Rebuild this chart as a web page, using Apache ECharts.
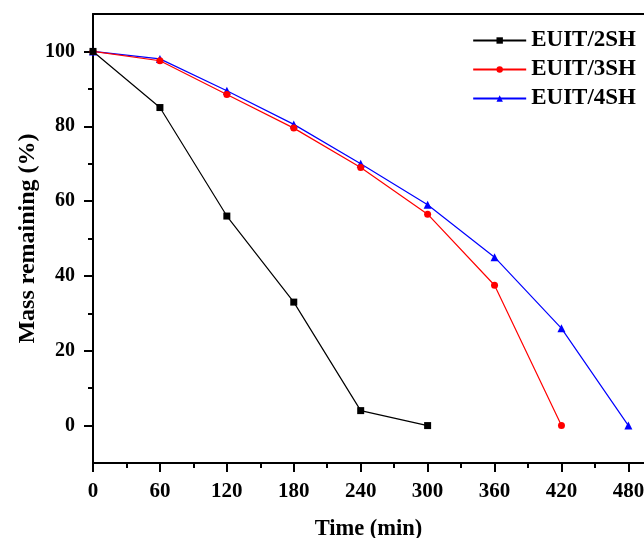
<!DOCTYPE html>
<html>
<head>
<meta charset="utf-8">
<script src="https://cdn.jsdelivr.net/npm/echarts@6/dist/echarts.min.js"></script>
<style>
  html, body { margin: 0; padding: 0; background: #fff; }
  #chart { width: 644px; height: 538px; }
</style>
</head>
<body>
<div id="chart"></div>
<script>
// data
const seriesNames = ['EUIT/2SH', 'EUIT/3SH', 'EUIT/4SH'];
const time2SH = [0, 60, 120, 180, 240, 300];
const mass2SH = [100, 85, 56, 33, 4, 0];
const time3SH = [0, 60, 120, 180, 240, 300, 360, 420];
const mass3SH = [100, 97.5, 88.5, 79.5, 69, 56.5, 37.5, 0];
const time4SH = [0, 60, 120, 180, 240, 300, 360, 420, 480];
const mass4SH = [100, 98, 89.5, 80.5, 70, 59, 45, 26, 0];
const xTicks = [0, 60, 120, 180, 240, 300, 360, 420, 480];
const xMinorTicks = [30, 90, 150, 210, 270, 330, 390, 450];
const yTicks = [0, 20, 40, 60, 80, 100];
const yMinorTicks = [10, 30, 50, 70, 90];

const font = '"Liberation Serif", "Times New Roman", serif';
const colors = ['#000000', '#ff0000', '#0000ff'];
const symbols = ['rect', 'circle', 'triangle'];
const symbolSizes = [7, 7, 8];

const pairs = (xs, ys) => xs.map((x, i) => [x, ys[i]]);
const allData = [pairs(time2SH, mass2SH), pairs(time3SH, mass3SH), pairs(time4SH, mass4SH)];

const chart = echarts.init(document.getElementById('chart'));

const txt = (size) => ({ color: '#000', fontFamily: font, fontWeight: 'bold', fontSize: size });
const axisLineStyle = { color: '#000', width: 2 };

chart.setOption({
    backgroundColor: '#ffffff',
    animation: false,
    grid: { left: 93, right: 0, top: 14, bottom: 75, containLabel: false, outerBoundsMode: 'none' },
    legend: {
        orient: 'vertical',
        right: 3,
        top: 24,
        itemWidth: 53,
        itemHeight: 8,
        itemGap: 6,
        textStyle: txt(23),
        data: seriesNames
    },
    xAxis: [{
        type: 'value',
        min: 0, max: 494,
        name: 'Time (min)',
        nameLocation: 'middle',
        nameGap: 55,
        nameMoveOverlap: false,
        nameTextStyle: txt(22.5),
        axisLine: { show: true, onZero: false, lineStyle: axisLineStyle },
        axisTick: { show: true, length: 9, customValues: xTicks, lineStyle: axisLineStyle },
        axisLabel: Object.assign({ customValues: xTicks, margin: 18 }, txt(21)),
        splitLine: { show: false }
    }, {
        type: 'value',
        min: 0, max: 494,
        position: 'bottom',
        axisLine: { show: false, onZero: false },
        axisTick: { show: true, length: 5, customValues: xMinorTicks, lineStyle: axisLineStyle },
        axisLabel: { show: false },
        splitLine: { show: false }
    }, {
        type: 'value',
        min: 0, max: 494,
        position: 'top',
        axisLine: { show: true, onZero: false, lineStyle: axisLineStyle },
        axisTick: { show: false },
        axisLabel: { show: false },
        splitLine: { show: false }
    }],
    yAxis: [{
        type: 'value',
        min: -10, max: 110,
        name: 'Mass remaining (%)',
        nameLocation: 'middle',
        nameGap: 53,
        nameMoveOverlap: false,
        nameTextStyle: txt(24),
        axisLine: { show: true, onZero: false, lineStyle: axisLineStyle },
        axisTick: { show: true, length: 9, customValues: yTicks, lineStyle: axisLineStyle },
        axisLabel: Object.assign({ customValues: yTicks, margin: 18 }, txt(20)),
        splitLine: { show: false }
    }, {
        type: 'value',
        min: -10, max: 110,
        position: 'left',
        axisLine: { show: false, onZero: false },
        axisTick: { show: true, length: 5, customValues: yMinorTicks, lineStyle: axisLineStyle },
        axisLabel: { show: false },
        splitLine: { show: false }
    }],
    series: seriesNames.map((name, i) => ({
        name: name,
        type: 'line',
        data: allData[i],
        symbol: symbols[i],
        symbolSize: symbolSizes[i],
        color: colors[i],
        lineStyle: { width: 1.2, color: colors[i] },
        itemStyle: { color: colors[i] },
        z: 3 - i
    }))
});
</script>
</body>
</html>
